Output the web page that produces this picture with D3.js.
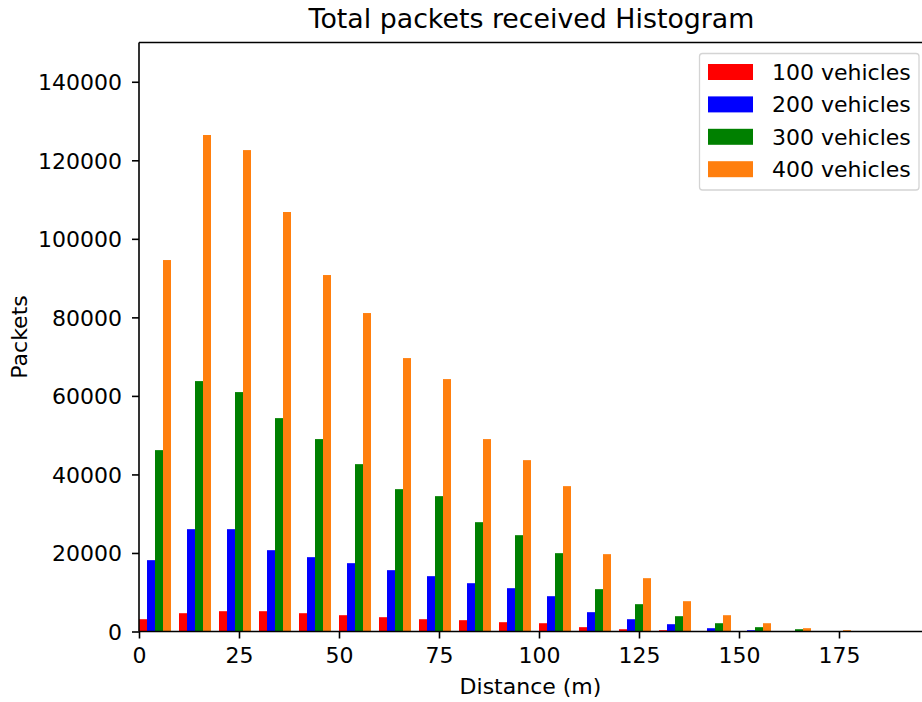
<!DOCTYPE html>
<html>
<head>
<meta charset="utf-8">
<script src="https://cdn.jsdelivr.net/npm/d3@7"></script>
<style>
  html, body { margin: 0; padding: 0; background: #fff; }
  svg { display: block; font-family: "DejaVu Sans", sans-serif; }
</style>
</head>
<body>
<svg id="chart" width="922" height="702"></svg>
<script>
// ---- data ----
const binStarts = [0, 10, 20, 30, 40, 50, 60, 70, 80, 90, 100, 110, 120, 130, 140, 150, 160, 170, 180];
const binWidth = 10;
const seriesNames = ["100 vehicles", "200 vehicles", "300 vehicles", "400 vehicles"];
const seriesColors = ["#ff0000", "#0000ff", "#008000", "#ff7f0e"];
const v100 = [3130, 4660, 5170, 5170, 4660, 4150, 3640, 3130, 2880, 2370, 2110, 1100, 580, 330, 100, 30, 10, 0, 0];
const v200 = [18170, 26060, 26060, 20710, 18930, 17400, 15620, 14090, 12300, 11030, 8990, 4920, 3130, 1860, 840, 330, 100, 50, 10];
const v300 = [46190, 63770, 60970, 54340, 49000, 42620, 36250, 34470, 27840, 24530, 19950, 10780, 6960, 3900, 2110, 1100, 580, 100, 30];
const v400 = [94600, 126440, 122600, 106830, 90780, 81100, 69630, 64280, 49000, 43640, 37020, 19700, 13580, 7720, 4150, 2110, 840, 330, 100];
const xTicks = [0, 25, 50, 75, 100, 125, 150, 175];
const yTicks = [0, 20000, 40000, 60000, 80000, 100000, 120000, 140000];
const title = "Total packets received Histogram";
const xLabel = "Distance (m)";
const yLabel = "Packets";

const seriesValues = [v100, v200, v300, v400];

// ---- layout ----
const L = 139, R = 922, T = 42.5, B = 631.5;
const svg = d3.select("#chart");
const x = d3.scaleLinear().domain([0, 195.75]).range([L, R]);
const y = d3.scaleLinear().domain([0, 150000]).range([B, T]);
const barW = binWidth * 0.8 / seriesValues.length;

// bars
seriesValues.forEach((vals, si) => {
  svg.append("g").selectAll("rect")
    .data(vals.map((v, i) => ({ b: binStarts[i], v })))
    .join("rect")
    .attr("x", d => x(d.b + si * barW))
    .attr("width", d => x(d.b + (si + 1) * barW) - x(d.b + si * barW))
    .attr("y", d => y(d.v))
    .attr("height", d => y(0) - y(d.v))
    .attr("fill", seriesColors[si]);
});

// axes
const fs = 22;
const xAxis = d3.axisBottom(x).tickValues(xTicks).tickSize(7).tickPadding(9).tickFormat(d3.format("d"));
const gx = svg.append("g").attr("transform", `translate(0,${B})`).call(xAxis);
const yAxis = d3.axisLeft(y).tickValues(yTicks).tickSize(7).tickPadding(10).tickFormat(d3.format("d"));
const gy = svg.append("g").attr("transform", `translate(${L},0)`).call(yAxis);
[gx, gy].forEach(g => {
  g.select(".domain").remove();
  g.selectAll(".tick line").attr("stroke", "#000").attr("stroke-width", 1.6);
  g.selectAll(".tick text").attr("fill", "#000").style("font-size", fs + "px").style("font-family", "DejaVu Sans");
});
gy.selectAll(".tick text").attr("dy", "0.36em");

// spines
const spine = svg.append("g").attr("stroke", "#000").attr("stroke-width", 1.6).attr("fill", "none");
spine.append("line").attr("x1", L).attr("x2", R + 2).attr("y1", B).attr("y2", B);
spine.append("line").attr("x1", L).attr("x2", R + 2).attr("y1", T).attr("y2", T);
spine.append("line").attr("x1", L).attr("x2", L).attr("y1", T).attr("y2", B);

// title and labels
svg.append("text").attr("x", (L + R) / 2 + 1).attr("y", 28).attr("text-anchor", "middle")
  .style("font-size", "26.8px").attr("fill", "#000").text(title);
svg.append("text").attr("x", (L + R) / 2).attr("y", 694).attr("text-anchor", "middle")
  .style("font-size", fs + "px").attr("fill", "#000").text(xLabel);
svg.append("text").attr("transform", `translate(27,${(T + B) / 2}) rotate(-90)`).attr("text-anchor", "middle")
  .style("font-size", fs + "px").attr("fill", "#000").text(yLabel);

// legend
const lg = svg.append("g");
lg.append("rect").attr("x", 699.5).attr("y", 53.5).attr("width", 219.5).attr("height", 136.5)
  .attr("rx", 3).attr("fill", "rgba(255,255,255,0.8)").attr("stroke", "#d4d4d4").attr("stroke-width", 1.3);
seriesNames.forEach((n, i) => {
  const cy = 72 + i * 32.4;
  lg.append("rect").attr("x", 708).attr("y", cy - 8).attr("width", 45).attr("height", 16).attr("fill", seriesColors[i]);
  lg.append("text").attr("x", 772).attr("y", cy).attr("dy", "0.36em").style("font-size", fs + "px").attr("fill", "#000").text(n);
});
</script>
</body>
</html>
